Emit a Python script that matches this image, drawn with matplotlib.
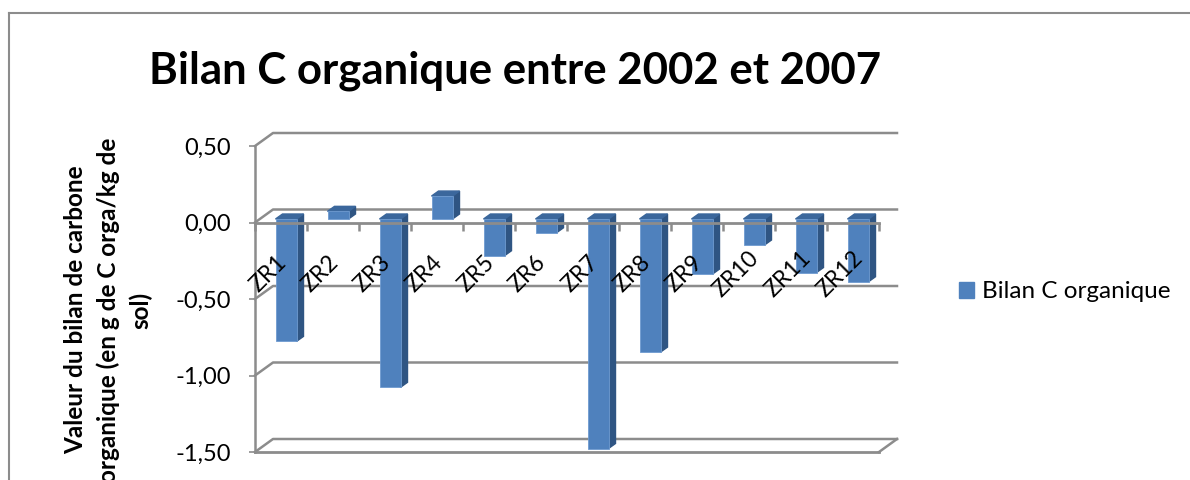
import matplotlib
matplotlib.use("Agg")
import matplotlib.pyplot as plt
from matplotlib.patches import Polygon, Patch
from matplotlib.lines import Line2D
from matplotlib.transforms import ScaledTranslation

plt.rcParams['font.family'] = ['Lato', 'DejaVu Sans']

# valeurs
zones = ["ZR1", "ZR2", "ZR3", "ZR4", "ZR5", "ZR6", "ZR7", "ZR8", "ZR9", "ZR10", "ZR11", "ZR12"]
bilan = [-0.80, 0.05, -1.10, 0.15, -0.24, -0.09, -1.50, -0.87, -0.36, -0.17, -0.35, -0.41]
y_ticks = [-1.5, -1.0, -0.5, 0.0, 0.5]
y_labels = ["-1,50", "-1,00", "-0,50", "0,00", "0,50"]

GREY = "#8c8c8c"
FRONT = "#4f81bd"
SIDE = "#2f5583"
TOP = "#3b679c"

fig = plt.figure(figsize=(11.9, 4.8), dpi=100)
ax = fig.add_axes([255 / 1190, 28 / 480, 624 / 1190, 306 / 480])
ax.set_xlim(0, 12)
ax.set_ylim(-1.5, 0.5)

# conversion pixels -> donnees pour l'effet 3D
px_x = 12 / 624
px_y = 2 / 306
wall_dx, wall_dy = 18 * px_x, 13 * px_y
bar_dx, bar_dy = 5 * px_x, 3.5 * px_y
depth_dx, depth_dy = 7 * px_x, 5 * px_y
bar_w = 21 * px_x

# mur du fond
for v in y_ticks:
    ax.plot([0, wall_dx, 12 + wall_dx], [v, v + wall_dy, v + wall_dy],
            color=GREY, lw=1.8, clip_on=False, zorder=0.5)
ax.plot([12, 12 + wall_dx], [-1.5, -1.5 + wall_dy], color=GREY, lw=1.8, clip_on=False, zorder=0.5)

# barres
centres = [i + 0.5 + bar_dx for i in range(len(zones))]
ax.bar(centres, bilan, width=bar_w, bottom=bar_dy, color=FRONT, edgecolor="#6f9bd0", linewidth=0.6,
       clip_on=False, zorder=1.2, label="Bilan C organique")
for c, v in zip(centres, bilan):
    low, high = min(v, 0) + bar_dy, max(v, 0) + bar_dy
    right = c + bar_w / 2
    left = c - bar_w / 2
    ax.add_patch(Polygon([(right, low), (right + depth_dx, low + depth_dy),
                          (right + depth_dx, high + depth_dy), (right, high)],
                         color=SIDE, clip_on=False, zorder=1.1))
    ax.add_patch(Polygon([(left, high), (left + depth_dx, high + depth_dy),
                          (right + depth_dx, high + depth_dy), (right, high)],
                         color=TOP, clip_on=False, zorder=1.1))

# axes
for s in ["top", "right"]:
    ax.spines[s].set_visible(False)
ax.spines["left"].set_color(GREY)
ax.spines["left"].set_linewidth(1.8)
ax.spines["bottom"].set_position(("data", 0))
ax.spines["bottom"].set_color(GREY)
ax.spines["bottom"].set_linewidth(2.0)
ax.set_axisbelow(False)
ax.plot([0, 12], [-1.5, -1.5], color=GREY, lw=2.0, clip_on=False, zorder=0.6)

ax.set_yticks(y_ticks)
ax.set_yticklabels(y_labels, fontsize=17)
ax.tick_params(axis="y", length=4.5, width=1.2, color=GREY, pad=13)

ax.set_xticks(range(13))
ax.set_xticklabels([])
ax.tick_params(axis="x", which="major", length=6, width=1.8, color=GREY, direction="out")
ax.set_xticks([i + 0.5 for i in range(12)], minor=True)
ax.set_xticklabels(zones, minor=True, rotation=45, ha="center", va="center", fontsize=16.5,
                   rotation_mode="anchor")
ax.tick_params(axis="x", which="minor", length=0, pad=37)
shift = ScaledTranslation(-13 / 100, 0, fig.dpi_scale_trans)
for lab in ax.get_xticklabels(minor=True):
    lab.set_transform(lab.get_transform() + shift)

# titre et axe y
fig.text(515 / 1190, 1 - 71 / 480, "Bilan C organique entre 2002 et 2007", fontsize=31.5,
         fontweight="bold", ha="center", va="center")
fig.text(108 / 1190, 1 - 310 / 480, "Valeur du bilan de carbone\norganique (en g de C orga/kg de\nsol)",
         rotation=90, fontsize=17.5, fontweight="bold", ha="center", va="center",
         multialignment="center", linespacing=1.46)

ax.legend(handles=[Patch(color=FRONT, label="Bilan C organique")], loc="center left",
          bbox_to_anchor=(951.5 / 1190, 1 - 292 / 480), bbox_transform=fig.transFigure,
          frameon=False, fontsize=17.5, handlelength=0.62, handleheight=0.62, handletextpad=0.32,
          borderpad=0, borderaxespad=0.3)

# cadre du graphique
fig.add_artist(Line2D([9 / 1190, 9 / 1190], [0, 1 - 13 / 480], color=GREY, lw=1.5))
fig.add_artist(Line2D([9 / 1190, 1], [1 - 13 / 480, 1 - 13 / 480], color=GREY, lw=1.5))

fig.savefig("out.png", dpi=100)
